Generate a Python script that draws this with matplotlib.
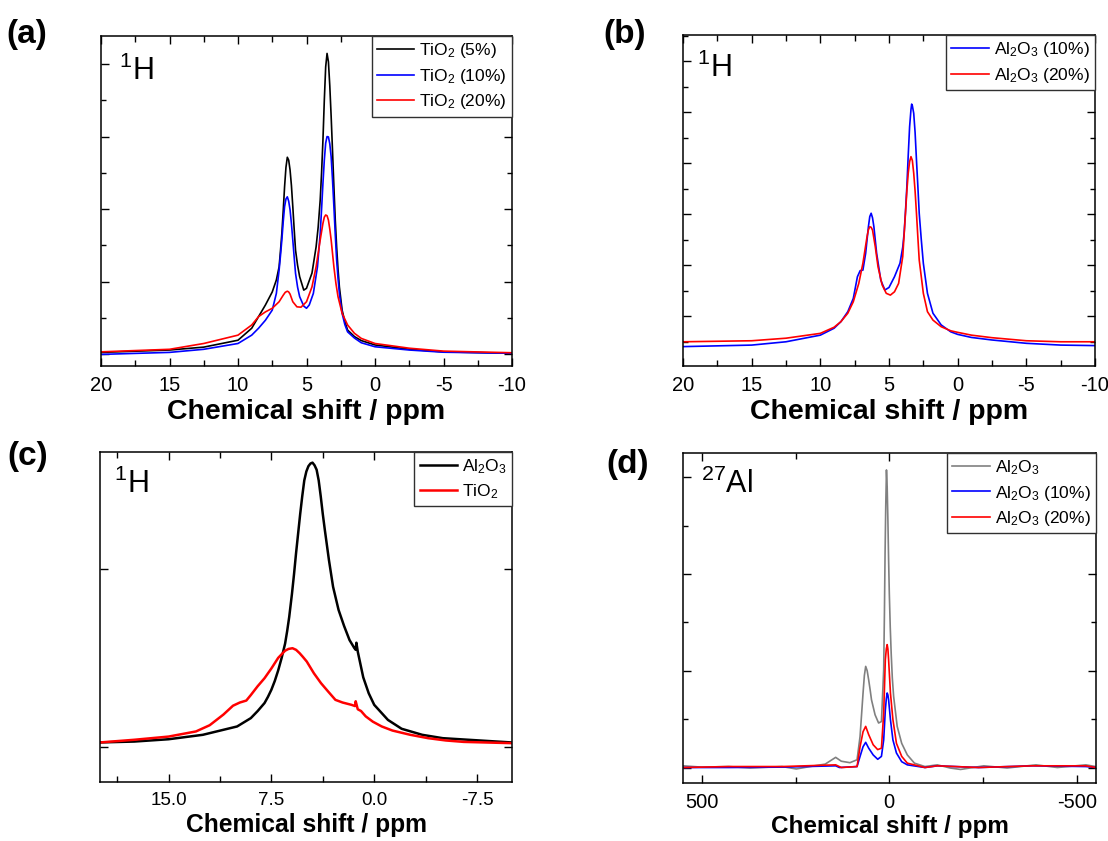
import matplotlib
matplotlib.use('Agg')
import matplotlib.pyplot as plt
from matplotlib.ticker import MultipleLocator, FormatStrFormatter

plt.rcParams.update({
    'font.family': ['Liberation Sans', 'DejaVu Sans'],
    'mathtext.fontset': 'custom',
    'mathtext.rm': 'Liberation Sans',
    'mathtext.it': 'Liberation Sans:italic',
    'mathtext.bf': 'Liberation Sans:bold',
    'mathtext.default': 'regular',
    'axes.unicode_minus': False,
})

W, H = 1108, 841

# ---------------- Panel (a): 1H, TiO2 loadings ----------------
a_ppm_5 = [20, 15, 12.5, 10, 9, 8.5, 8, 7.5, 7.2, 7.0, 6.9, 6.8, 6.7, 6.6, 6.5, 6.4, 6.3, 6.2, 6.1, 6.0,
           5.9, 5.8, 5.65, 5.5, 5.2, 5.0, 4.6, 4.3, 4.15, 4.0, 3.9, 3.8, 3.7, 3.6, 3.5, 3.4, 3.3, 3.2,
           3.1, 3.0, 2.9, 2.8, 2.7, 2.6, 2.4, 2.2, 2.0, 1.5, 1.0, 0, -2.5, -5, -10]
a_int_5 = [0.055, 0.12, 0.20, 0.39, 0.72, 1.04, 1.36, 1.72, 2.05, 2.41, 2.85, 3.33, 3.95, 4.62, 5.15, 5.43,
           5.35, 5.08, 4.65, 4.07, 3.45, 2.87, 2.45, 2.14, 1.77, 1.82, 2.24, 2.96, 3.50, 4.25, 5.00, 5.90,
           7.00, 7.92, 8.29, 8.06, 7.40, 6.55, 5.60, 4.62, 3.70, 2.96, 2.35, 1.86, 1.22, 0.90, 0.67, 0.49,
           0.38, 0.26, 0.14, 0.07, 0.03]
a_ppm_10 = [20, 15, 12.5, 10, 9, 8.5, 8, 7.5, 7.2, 7.0, 6.9, 6.8, 6.7, 6.6, 6.5, 6.4, 6.3, 6.2, 6.1, 6.0,
            5.9, 5.8, 5.65, 5.5, 5.2, 5.0, 4.8, 4.5, 4.2, 4.0, 3.9, 3.8, 3.7, 3.6, 3.5, 3.4, 3.3, 3.2,
            3.1, 3.0, 2.9, 2.8, 2.7, 2.6, 2.4, 2.2, 2.0, 1.5, 1.0, 0, -2.5, -5, -10]
a_int_10 = [0.0, 0.055, 0.14, 0.30, 0.53, 0.72, 0.94, 1.22, 1.68, 2.32, 2.72, 3.15, 3.65, 4.07, 4.28, 4.34,
            4.22, 3.98, 3.60, 3.15, 2.68, 2.23, 1.85, 1.59, 1.33, 1.27, 1.36, 1.68, 2.41, 3.33, 4.00, 4.71,
            5.35, 5.82, 6.00, 5.99, 5.80, 5.44, 4.80, 4.07, 3.30, 2.60, 2.10, 1.68, 1.13, 0.82, 0.62, 0.45,
            0.32, 0.21, 0.12, 0.06, 0.03]
a_ppm_20 = [20, 15, 12.5, 10, 9, 8.5, 8, 7.5, 7.0, 6.7, 6.55, 6.4, 6.3, 6.2, 6.0, 5.7, 5.4, 5.0, 4.6,
            4.3, 4.0, 3.8, 3.7, 3.6, 3.5, 3.4, 3.3, 3.2, 3.0, 2.85, 2.7, 2.4, 2.0, 1.5, 1.0, 0, -2.5, -5,
            -10]
a_int_20 = [0.07, 0.14, 0.30, 0.53, 0.81, 1.04, 1.17, 1.27, 1.45, 1.63, 1.71, 1.74, 1.72, 1.66, 1.45, 1.31,
            1.30, 1.45, 1.86, 2.41, 3.15, 3.61, 3.78, 3.84, 3.82, 3.70, 3.45, 3.15, 2.41, 1.95, 1.59, 1.13,
            0.81, 0.58, 0.44, 0.30, 0.17, 0.09, 0.045]
a_labels = ['TiO$_2$ (5%)', 'TiO$_2$ (10%)', 'TiO$_2$ (20%)']

# ---------------- Panel (b): 1H, Al2O3 loadings ----------------
b_ppm_10 = [20, 15, 12.5, 10, 9, 8.5, 8, 7.6, 7.3, 7.1, 6.9, 6.7, 6.5, 6.4, 6.3, 6.2, 6.1, 5.9, 5.6, 5.3,
            5.0, 4.6, 4.2, 4.0, 3.9, 3.8, 3.7, 3.6, 3.5, 3.4, 3.35, 3.3, 3.2, 3.1, 3.0, 2.9, 2.8, 2.65,
            2.5, 2.2, 1.8, 1.2, 0.5, 0, -1, -2.5, -5, -7.5, -10]
b_int_10 = [0.80, 0.86, 0.99, 1.25, 1.52, 1.78, 2.17, 2.69, 3.54, 3.78, 3.80, 4.46, 5.50, 5.90, 6.03, 5.85,
            5.50, 4.46, 3.41, 3.02, 3.12, 3.54, 4.07, 4.70, 5.24, 6.10, 7.07, 8.30, 9.42, 10.10, 10.31,
            10.25, 9.95, 9.20, 8.12, 7.10, 6.03, 5.00, 4.07, 2.89, 2.11, 1.65, 1.38, 1.28, 1.16, 1.06, 0.93,
            0.86, 0.84]
b_ppm_20 = [20, 15, 12.5, 10, 9, 8.5, 8, 7.6, 7.2, 6.9, 6.6, 6.5, 6.4, 6.3, 6.2, 6.0, 5.8, 5.5, 5.2, 4.9,
            4.6, 4.3, 4.0, 3.8, 3.7, 3.6, 3.5, 3.4, 3.3, 3.2, 3.1, 3.0, 2.9, 2.8, 2.5, 2.2, 1.8, 1.2, 0.5,
            0, -1, -2.5, -5, -7.5, -10]
b_int_20 = [0.99, 1.03, 1.13, 1.32, 1.56, 1.78, 2.11, 2.56, 3.28, 4.07, 5.11, 5.38, 5.50, 5.48, 5.37, 4.72,
            3.93, 3.22, 2.89, 2.82, 2.95, 3.28, 4.33, 6.03, 6.90, 7.60, 8.05, 8.25, 8.10, 7.60, 6.90, 6.03,
            5.10, 4.20, 2.89, 2.17, 1.84, 1.58, 1.42, 1.36, 1.25, 1.15, 1.03, 0.99, 0.99]
b_labels = ['Al$_2$O$_3$ (10%)', 'Al$_2$O$_3$ (20%)']

# ---------------- Panel (c): 1H, pure supports ----------------
c_ppm_al = [20, 17.5, 15, 12.5, 10, 9, 8.5, 8, 7.75, 7.5, 7.25, 7, 6.75, 6.5, 6.35, 6.2, 6.0, 5.85, 5.7,
            5.55, 5.4, 5.25, 5.1, 4.95, 4.8, 4.65, 4.5, 4.35, 4.2, 4.05, 3.9, 3.75, 3.6, 3.3, 3.0, 2.6, 2.2,
            1.8, 1.45, 1.35, 1.3, 1.2, 0.8, 0.4, 0, -1, -2, -3.5, -5, -7.5, -10]
c_int_al = [0.023, 0.028, 0.041, 0.066, 0.113, 0.16, 0.20, 0.245, 0.28, 0.32, 0.37, 0.43, 0.50, 0.58, 0.65,
            0.73, 0.86, 0.97, 1.09, 1.20, 1.31, 1.41, 1.50, 1.55, 1.58, 1.595, 1.60, 1.585, 1.56, 1.50,
            1.41, 1.31, 1.22, 1.05, 0.90, 0.77, 0.68, 0.60, 0.555, 0.545, 0.585, 0.535, 0.39, 0.30, 0.235,
            0.15, 0.10, 0.066, 0.047, 0.035, 0.023]
c_ppm_ti = [20, 17.5, 15, 13, 12, 11, 10.3, 9.8, 9.33, 9, 8.5, 8, 7.5, 7, 6.5, 6.25, 5.96, 5.7, 5.44, 5.2,
            4.92, 4.4, 3.88, 3.36, 2.83, 2.31, 1.66, 1.4, 1.35, 1.25, 1.2, 0.96, 0.62, 0.1, -0.55, -1.33,
            -2.63, -3.93, -5.23, -6.53, -10]
c_int_ti = [0.023, 0.038, 0.056, 0.085, 0.12, 0.18, 0.23, 0.248, 0.259, 0.29, 0.34, 0.385, 0.44, 0.50, 0.54,
            0.55, 0.554, 0.545, 0.526, 0.505, 0.479, 0.413, 0.357, 0.31, 0.263, 0.248, 0.235, 0.228, 0.255,
            0.225, 0.21, 0.20, 0.17, 0.14, 0.113, 0.09, 0.066, 0.047, 0.034, 0.026, 0.019]
c_labels = ['Al$_2$O$_3$', 'TiO$_2$']

# ---------------- Panel (d): 27Al ----------------
d_ppm_0 = [550, 500, 428, 371, 286, 248, 200, 171, 143, 128, 105, 86, 78, 70, 66.5, 63, 59, 55, 51, 47.5,
           38, 28.6, 21, 15, 13, 11.3, 9.5, 7.6, 5.7, 3.8, 1.9, 0, -2.5, -5, -8, -11.5, -21, -33, -48, -67,
           -95, -128, -162, -190, -252, -314, -391, -448, -524, -550]
d_int_0 = [0.035, 0.008, 0.02, -0.01, 0.02, -0.03, 0.035, 0.07, 0.21, 0.13, 0.10, 0.16, 0.64, 1.54, 1.90,
           2.09, 2.00, 1.81, 1.60, 1.40, 1.09, 0.92, 0.95, 2.02, 3.20, 4.43, 5.40, 6.15, 5.80, 5.12, 4.30,
           3.60, 2.90, 2.36, 1.85, 1.47, 0.85, 0.50, 0.26, 0.09, 0.02, 0.055, -0.01, -0.04, 0.035, -0.01,
           0.055, 0.0, 0.055, 0.02]
d_ppm_10 = [550, 428, 286, 143, 133, 86, 78, 70, 63, 55, 43, 30.9, 21, 15, 10.6, 8, 5.7, 3.8, 1.9, -3,
            -9.6, -19, -33, -48, -95, -128, -238, -381, -524, -550]
d_int_10 = [0.0, 0.0, 0.008, 0.035, 0.0, 0.02, 0.23, 0.43, 0.52, 0.40, 0.26, 0.17, 0.23, 0.57, 1.19, 1.42,
            1.54, 1.50, 1.40, 0.99, 0.57, 0.30, 0.12, 0.055, 0.0, 0.035, 0.0, 0.035, 0.02, 0.0]
d_ppm_20 = [550, 428, 286, 143, 128, 86, 78, 70, 63, 55, 43, 31, 21, 15, 10.6, 8, 5.7, 3.8, 1.9, -3,
            -9.6, -19, -33, -48, -95, -128, -238, -381, -524, -550]
d_int_20 = [0.0, 0.02, 0.02, 0.055, 0.0, 0.02, 0.43, 0.74, 0.85, 0.68, 0.47, 0.37, 0.40, 1.12, 2.23, 2.45,
            2.54, 2.45, 2.23, 1.54, 0.99, 0.50, 0.23, 0.09, 0.0, 0.035, 0.0, 0.035, 0.035, 0.0]
d_labels = ['Al$_2$O$_3$', 'Al$_2$O$_3$ (10%)', 'Al$_2$O$_3$ (20%)']

xlabel = 'Chemical shift / ppm'

fig = plt.figure(figsize=(W / 100, H / 100), dpi=100)


def add_ax(l, t, r, b):
    return fig.add_axes([l / W, 1 - b / H, (r - l) / W, (b - t) / H])


def style(ax, xlim, ylim, xmaj, xmin, ymaj, ymin, xsize, labsize, lpad):
    ax.set_xlim(*xlim)
    ax.set_ylim(*ylim)
    ax.xaxis.set_major_locator(MultipleLocator(xmaj))
    ax.xaxis.set_minor_locator(MultipleLocator(xmin))
    ax.yaxis.set_major_locator(MultipleLocator(ymaj))
    if ymin:
        ax.yaxis.set_minor_locator(MultipleLocator(ymin))
    ax.tick_params(which='both', direction='in', top=True, right=True, labelleft=False,
                   width=1.0, colors='black')
    ax.tick_params(which='major', length=5.5)
    ax.tick_params(which='minor', length=3.5)
    ax.tick_params(axis='x', which='minor', length=4.5)
    ax.tick_params(axis='x', labelsize=xsize, pad=7)
    for s in ax.spines.values():
        s.set_linewidth(1.1)
    ax.set_xlabel(xlabel, fontsize=labsize, fontweight='bold', labelpad=lpad)


def legend(ax, lw):
    leg = ax.legend(loc='upper right', bbox_to_anchor=(1, 1), borderaxespad=0, fancybox=False,
                    framealpha=1, edgecolor='#303030', fontsize=12.5, handlelength=2.15,
                    handletextpad=0.3, labelspacing=0.38, borderpad=0.3)
    leg.get_frame().set_linewidth(1.0)
    for h in leg.get_lines():
        h.set_linewidth(lw)


def label(px, py, s):
    fig.text(px / W, 1 - py / H, s, fontsize=24, fontweight='bold', va='center', ha='left')


def nucleus(px, py, s):
    fig.text(px / W, 1 - py / H, s, fontsize=22, va='baseline', ha='left')


# (a)
axa = add_ax(101, 36, 512, 366)
axa.plot(a_ppm_5, a_int_5, color='black', lw=1.2, label=a_labels[0])
axa.plot(a_ppm_10, a_int_10, color='#0000ff', lw=1.2, label=a_labels[1])
axa.plot(a_ppm_20, a_int_20, color='#ff0000', lw=1.2, label=a_labels[2])
style(axa, (20, -10), (-0.32, 8.77), 5, 2.5, 2, 1, 14.5, 20.5, 3)
legend(axa, 1.2)

# (b)
axb = add_ax(683, 35, 1095, 366)
axb.plot(b_ppm_10, b_int_10, color='#0000ff', lw=1.2, label=b_labels[0])
axb.plot(b_ppm_20, b_int_20, color='#ff0000', lw=1.2, label=b_labels[1])
style(axb, (20, -10), (0.04, 13.02), 5, 2.5, 2, 1, 14.5, 20.5, 3)
legend(axb, 1.2)

# (c)
axc = add_ax(100, 452, 512, 782)
axc.plot(c_ppm_al, c_int_al, color='black', lw=1.8, label=c_labels[0])
axc.plot(c_ppm_ti, c_int_ti, color='#ff0000', lw=1.8, label=c_labels[1])
style(axc, (20, -10.05), (-0.2, 1.66), 7.5, 3.75, 1, None, 13.5, 17.7, 3)
axc.xaxis.set_major_formatter(FormatStrFormatter('%.1f'))
legend(axc, 1.8)

# (d)
axd = add_ax(683, 453, 1096, 783)
axd.plot(d_ppm_0, d_int_0, color='#808080', lw=1.2, label=d_labels[0])
axd.plot(d_ppm_10, d_int_10, color='#0000ff', lw=1.2, label=d_labels[1])
axd.plot(d_ppm_20, d_int_20, color='#ff0000', lw=1.2, label=d_labels[2])
style(axd, (550, -551), (-0.32, 6.5), 500, 250, 2, 1, 14.5, 17.5, 2)
legend(axd, 1.2)

label(6, 34, '(a)')
label(603, 34, '(b)')
label(7, 456, '(c)')
label(606, 464, '(d)')

nucleus(119, 80, r'$^{1}$H')
nucleus(697, 77, r'$^{1}$H')
nucleus(114, 493, r'$^{1}$H')
nucleus(701, 493, r'$^{27}$Al')

fig.savefig('out.png', dpi=100)
